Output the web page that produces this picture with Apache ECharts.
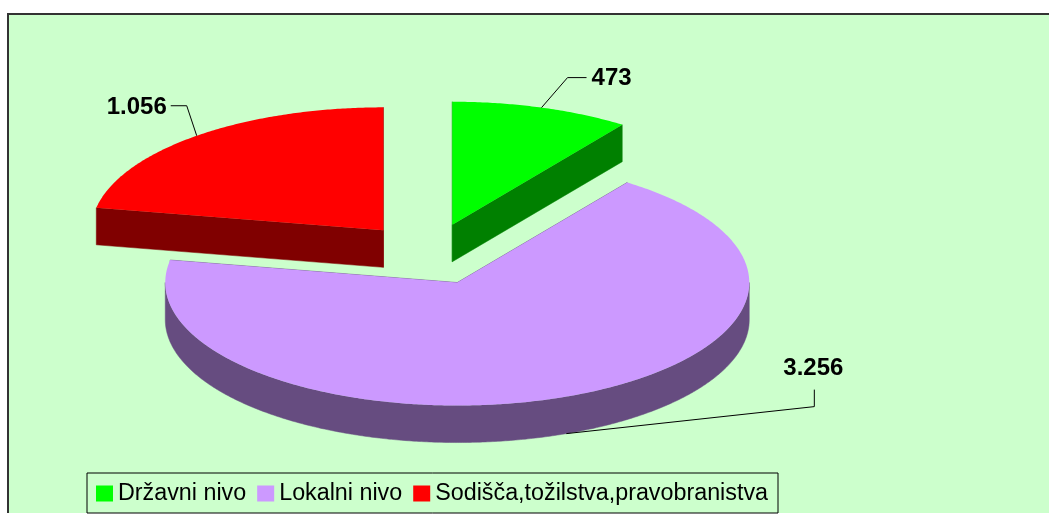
<!DOCTYPE html>
<html lang="sl">
<head>
<meta charset="UTF-8">
<title>Pie</title>
<script src="https://cdn.jsdelivr.net/npm/echarts@6/dist/echarts.min.js"></script>
<style>
  html, body { margin: 0; padding: 0; background: #fff; }
  #container { width: 1049px; height: 514px; }
</style>
</head>
<body>
<div id="container"></div>
<script>
// podatki
const categories = ['Državni nivo', 'Lokalni nivo', 'Sodišča,tožilstva,pravobranistva'];
const values = [473, 3256, 1056];
const topColors = ['#00FF00', '#CC99FF', '#FF0000'];
const sideColors = ['#008000', '#664C80', '#800000'];

// geometrija 3D torte
const CX = 430, CY = 254, RX = 292, RY = 123, DEPTH = 37, EXPLODE = 0.25;

// vodilne črte za oznake (odmik od sidra, rep, položaj besedila)
const leaders = [
  { elbow: [26, -30], tail: [19, 0], text: [5, 1], align: 'left' },
  { elbow: [248, -27], tail: [0, -17], text: [-1, -21], align: 'center' },
  { elbow: [-10, -30], tail: [-16, 0], text: [-4, 2], align: 'right' }
];

const fmt = v => String(v).replace(/\B(?=(\d{3})+(?!\d))/g, '.');
const total = values.reduce((s, v) => s + v, 0);

function renderSlice(idx) {
  return function (params, api) {
    let before = 0;
    for (let j = 0; j < idx; j++) before += values[j];
    const a = before / total * Math.PI * 2;
    const b = (before + api.value(0)) / total * Math.PI * 2;
    const m = (a + b) / 2;
    const cx = CX + EXPLODE * RX * Math.sin(m);
    const cy = CY - EXPLODE * RY * Math.cos(m);
    const P = t => [cx + RX * Math.sin(t), cy - RY * Math.cos(t)];
    const down = p => [p[0], p[1] + DEPTH];
    const arc = (t0, t1) => {
      const n = Math.max(2, Math.ceil((t1 - t0) / (Math.PI / 360)));
      const pts = [];
      for (let k = 0; k <= n; k++) pts.push(P(t0 + (t1 - t0) * k / n));
      return pts;
    };
    const side = sideColors[idx];
    const top = api.visual('color');
    const children = [];

    // stranski ploskvi
    [a, b].forEach(t => {
      const p = P(t);
      children.push({
        type: 'polygon',
        shape: { points: [[cx, cy], p, down(p), [cx, cy + DEPTH]] },
        style: { fill: side, stroke: side, lineWidth: 0.5 }
      });
    });

    // zunanji rob (spredaj)
    const lo = Math.max(a, Math.PI / 2), hi = Math.min(b, Math.PI * 1.5);
    if (hi > lo) {
      const ring = arc(lo, hi);
      children.push({
        type: 'polygon',
        shape: { points: ring.concat(ring.slice().reverse().map(down)) },
        style: { fill: side, stroke: side, lineWidth: 0.5 }
      });
    }

    // zgornja ploskev
    children.push({
      type: 'polygon',
      shape: { points: [[cx, cy]].concat(arc(a, b)) },
      style: { fill: top }
    });

    // oznaka
    let anchor = P(m);
    if (Math.cos(m) < 0) anchor = down(anchor);
    const L = leaders[idx];
    const elbow = [anchor[0] + L.elbow[0], anchor[1] + L.elbow[1]];
    const end = [elbow[0] + L.tail[0], elbow[1] + L.tail[1]];
    children.push({
      type: 'polyline',
      z2: 10,
      shape: { points: [anchor, elbow, end] },
      style: { stroke: '#000', lineWidth: 1, fill: null }
    });
    children.push({
      type: 'text',
      z2: 10,
      x: end[0] + L.text[0],
      y: end[1] + L.text[1],
      style: {
        text: fmt(api.value(0)),
        fontFamily: 'Liberation Sans, Arial, sans-serif',
        fontWeight: 'bold',
        fontSize: 24,
        fill: '#000',
        align: L.align,
        verticalAlign: 'middle'
      }
    });

    return { type: 'group', children };
  };
}

const chart = echarts.init(document.getElementById('container'), null, { renderer: 'canvas' });

chart.setOption({
  animation: false,
  backgroundColor: '#fff',
  graphic: [
    { type: 'rect', z: -10, shape: { x: 8, y: 14, width: 1041, height: 499 }, style: { fill: '#CCFFCC' } },
    { type: 'polyline', z: -9, shape: { points: [[8, 513], [8, 14], [1049, 14]] }, style: { stroke: '#333', lineWidth: 2, fill: null } }
  ],
  legend: {
    left: 87,
    top: 473,
    padding: [9, 10, 8, 9],
    itemGap: 11,
    itemWidth: 17,
    itemHeight: 16,
    icon: 'rect',
    backgroundColor: '#CCFFCC',
    borderColor: '#000',
    borderWidth: 1,
    borderRadius: 0,
    selectedMode: false,
    textStyle: { fontFamily: 'Liberation Sans, Arial, sans-serif', fontSize: 23.3, color: '#000' },
    data: categories
  },
  series: categories.map((name, i) => ({
    type: 'custom',
    name: name,
    coordinateSystem: 'none',
    z: i === 1 ? 3 : 2,
    itemStyle: { color: topColors[i] },
    renderItem: renderSlice(i),
    data: [values[i]]
  }))
});
</script>
</body>
</html>
